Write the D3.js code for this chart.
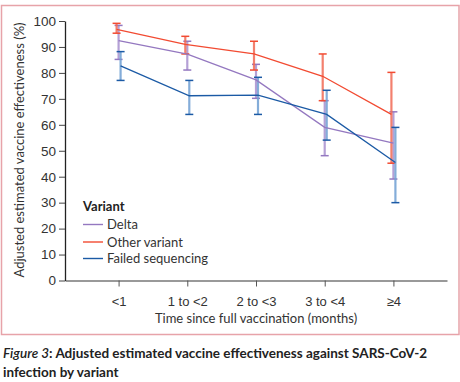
<!DOCTYPE html>
<html><head><meta charset="utf-8">
<script src="https://cdn.jsdelivr.net/npm/d3@7"></script>
<style>
html,body{margin:0;padding:0;background:#fff;}
svg{display:block;font-family:Lato,"Open Sans",sans-serif;}
</style></head>
<body>
<svg id="c" width="460" height="382"></svg>
<script>
const categories = ["<1", "1 to <2", "2 to <3", "3 to <4", "≥4"];
const yTicks = [0,10,20,30,40,50,60,70,80,90,100];
const seriesNames = ["Delta", "Other variant", "Failed sequencing"];
const deltaVal = [92.4, 87.2, 77.3, 59.0, 52.9];
const deltaLow = [85.2, 81.1, 70.2, 48.1, 39.1];
const deltaHigh = [98.3, 92.2, 83.3, 69.3, 65.0];
const otherVal = [96.8, 91.0, 87.3, 78.7, 64.0];
const otherLow = [95.3, 87.3, 81.1, 69.3, 45.2];
const otherHigh = [99.1, 94.1, 92.2, 87.3, 80.2];
const failedVal = [82.7, 71.2, 71.4, 64.0, 45.5];
const failedLow = [77.1, 64.0, 64.0, 54.1, 30.0];
const failedHigh = [88.2, 77.1, 78.3, 73.3, 59.0];

const series = [
  {name: seriesNames[0], val: deltaVal, lo: deltaLow, hi: deltaHigh, color: "#9478c0", bar: "#a890cf", off: 0},
  {name: seriesNames[1], val: otherVal, lo: otherLow, hi: otherHigh, color: "#f24b32", bar: "#f26a55", off: -2},
  {name: seriesNames[2], val: failedVal, lo: failedLow, hi: failedHigh, color: "#1b5aa5", bar: "#6f9fd3", off: 2}
];

const svg = d3.select("#c");
// border box
svg.append("rect").attr("x",1.5).attr("y",5.5).attr("width",457.5).attr("height",329)
  .attr("fill","none").attr("stroke","#e7a3a9").attr("stroke-width",1.5);

const x = d3.scalePoint().domain(categories).range([65, 447]).padding(0.78);
const y = d3.scaleLinear().domain([0,100]).range([280.5, 21]);

// x axis
const xg = svg.append("g").attr("transform","translate(0,280.5)")
  .call(d3.axisBottom(x).tickSize(6).tickSizeOuter(0));
xg.select(".domain").attr("stroke","#777").attr("stroke-width",1.5);
xg.selectAll(".tick line").attr("stroke","#555");
xg.selectAll(".tick text").attr("font-size",13).attr("fill","#333").attr("dy","1.3em");

// y axis
const yg = svg.append("g").attr("transform","translate(65,0)")
  .call(d3.axisLeft(y).tickValues(yTicks).tickSize(6).tickSizeOuter(0));
yg.select(".domain").attr("stroke","#222").attr("stroke-width",1.3);
yg.selectAll(".tick line").attr("stroke","#444");
yg.selectAll(".tick text").attr("font-size",13.5).attr("fill","#333").attr("x",-9);

// axis titles
svg.append("text").attr("x",256).attr("y",323).attr("text-anchor","middle")
  .attr("font-size",13).attr("fill","#333").text("Time since full vaccination (months)");
svg.append("text").attr("transform","translate(24,150) rotate(-90)").attr("text-anchor","middle")
  .attr("font-size",13).attr("fill","#333").text("Adjusted estimated vaccine effectiveness (%)");

// error bars
series.forEach(s => {
  const g = svg.append("g");
  categories.forEach((c,i) => {
    const cx = x(c) + s.off;
    g.append("line").attr("x1",cx).attr("x2",cx).attr("y1",y(s.lo[i])).attr("y2",y(s.hi[i]))
      .attr("stroke",s.bar).attr("stroke-width",2.2).attr("opacity",0.85);
    [s.lo[i], s.hi[i]].forEach(v => {
      g.append("line").attr("x1",cx-4).attr("x2",cx+4).attr("y1",y(v)).attr("y2",y(v))
        .attr("stroke",s.color).attr("stroke-width",1.5);
    });
  });
});
// lines
series.forEach(s => {
  const line = d3.line().x((d,i)=>x(categories[i])+s.off).y(d=>y(d));
  svg.append("path").datum(s.val).attr("d",line).attr("fill","none")
    .attr("stroke",s.color).attr("stroke-width",1.3);
});

// legend
svg.append("text").attr("x",83).attr("y",211).attr("font-size",13).attr("font-weight","bold")
  .attr("fill","#222").text("Variant");
const ly = [224.5, 242, 258.5];
series.forEach((s,i) => {
  svg.append("line").attr("x1",83).attr("x2",103).attr("y1",ly[i]).attr("y2",ly[i])
    .attr("stroke",s.color).attr("stroke-width",1.4);
  svg.append("text").attr("x",107).attr("y",ly[i]).attr("dy","0.35em").attr("font-size",13)
    .attr("fill","#333").text(s.name);
});

// caption
const cap = svg.append("text").attr("x",3).attr("y",358).attr("font-size",13.5).attr("fill","#222");
cap.append("tspan").attr("font-style","italic").attr("font-weight","600").text("Figure 3");
cap.append("tspan").attr("font-weight","bold").text(": Adjusted estimated vaccine effectiveness against SARS-CoV-2");
svg.append("text").attr("x",3).attr("y",377).attr("font-size",13.5).attr("fill","#222")
  .attr("font-weight","bold").text("infection by variant");
</script>
</body></html>
